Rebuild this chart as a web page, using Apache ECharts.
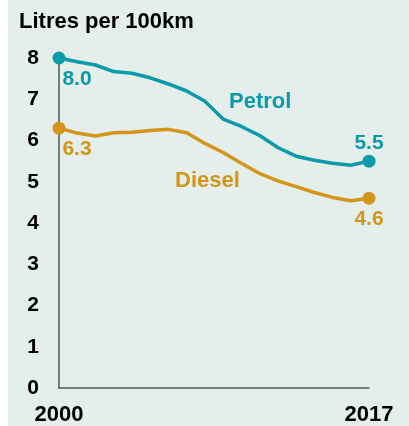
<!DOCTYPE html>
<html><head><meta charset="utf-8">
<script src="https://cdn.jsdelivr.net/npm/echarts@6/dist/echarts.min.js"></script>
<style>html,body{margin:0;padding:0;background:#fff}#c{width:409px;height:426px}</style>
</head><body><div id="c"></div>
<script>
const years = ['2000','2001','2002','2003','2004','2005','2006','2007','2008','2009','2010','2011','2012','2013','2014','2015','2016','2017'];
const petrol = [8.0, 7.91, 7.83, 7.67, 7.63, 7.52, 7.37, 7.2, 6.95, 6.52, 6.34, 6.12, 5.83, 5.62, 5.52, 5.45, 5.40, 5.5];
const diesel = [6.3, 6.18, 6.11, 6.19, 6.2, 6.24, 6.27, 6.19, 5.93, 5.71, 5.45, 5.2, 5.02, 4.88, 4.74, 4.62, 4.54, 4.6];
const yTicks = [0,1,2,3,4,5,6,7,8];
const seriesNames = ['Petrol','Diesel'];
const title = 'Litres per 100km';

const TEAL = '#0b9aaa', GOLD = '#d3951a';
const FONT = '"Liberation Sans", Arial, sans-serif';
const last = years.length - 1;

function buildData(arr, color, startPos, endPos, endDist) {
  return arr.map((v, i) => {
    if (i === 0 || i === last) {
      return {
        value: v, symbol: 'circle', symbolSize: 13,
        label: { show: true, formatter: v.toFixed(1), position: i === 0 ? startPos : endPos,
          color: color, fontFamily: FONT, fontWeight: 'bold', fontSize: 21,
          distance: i === 0 ? 4 : endDist, offset: i === 0 ? [18, 0] : [0, 0] }
      };
    }
    return { value: v, symbol: 'none' };
  });
}

const chart = echarts.init(document.getElementById('c'));
chart.setOption({
  backgroundColor: '#fff',
  animation: false,
  graphic: [
    { type: 'rect', left: 8, top: 0, shape: { width: 401, height: 426 }, style: { fill: '#e4eeea' }, z: -10 },
    { type: 'text', left: 19, top: 11, style: { text: title, font: 'bold 22px ' + FONT, fill: '#000' } },
    { type: 'text', left: 229, top: 91, style: { text: seriesNames[0], font: 'bold 22px ' + FONT, fill: TEAL } },
    { type: 'text', left: 175, top: 170, style: { text: seriesNames[1], font: 'bold 22px ' + FONT, fill: GOLD } }
  ],
  grid: { left: 59, right: 40, top: 58, bottom: 37, containLabel: false },
  xAxis: {
    type: 'category', data: years, boundaryGap: false,
    axisLine: { lineStyle: { color: '#555', width: 1.5 } },
    axisTick: { show: false },
    axisLabel: { interval: 0, formatter: (v, i) => (i === 0 || i === last) ? v : '',
      color: '#000', fontFamily: FONT, fontWeight: 'bold', fontSize: 22, margin: 16 },
    splitLine: { show: false }
  },
  yAxis: {
    type: 'value', min: 0, max: 8, interval: 1,
    axisLine: { show: true, lineStyle: { color: '#555', width: 1.5 } },
    axisTick: { show: false },
    axisLabel: { color: '#000', fontFamily: FONT, fontWeight: 'bold', fontSize: 21, margin: 20,
      formatter: v => yTicks.includes(v) ? String(v) : '' },
    splitLine: { show: false }
  },
  series: [
    { name: seriesNames[0], type: 'line', data: buildData(petrol, TEAL, 'bottom', 'top', 1),
      lineStyle: { color: TEAL, width: 3.5 }, itemStyle: { color: TEAL }, z: 3 },
    { name: seriesNames[1], type: 'line', data: buildData(diesel, GOLD, 'bottom', 'bottom', 4),
      lineStyle: { color: GOLD, width: 3.5 }, itemStyle: { color: GOLD }, z: 3 }
  ]
});
</script></body></html>
